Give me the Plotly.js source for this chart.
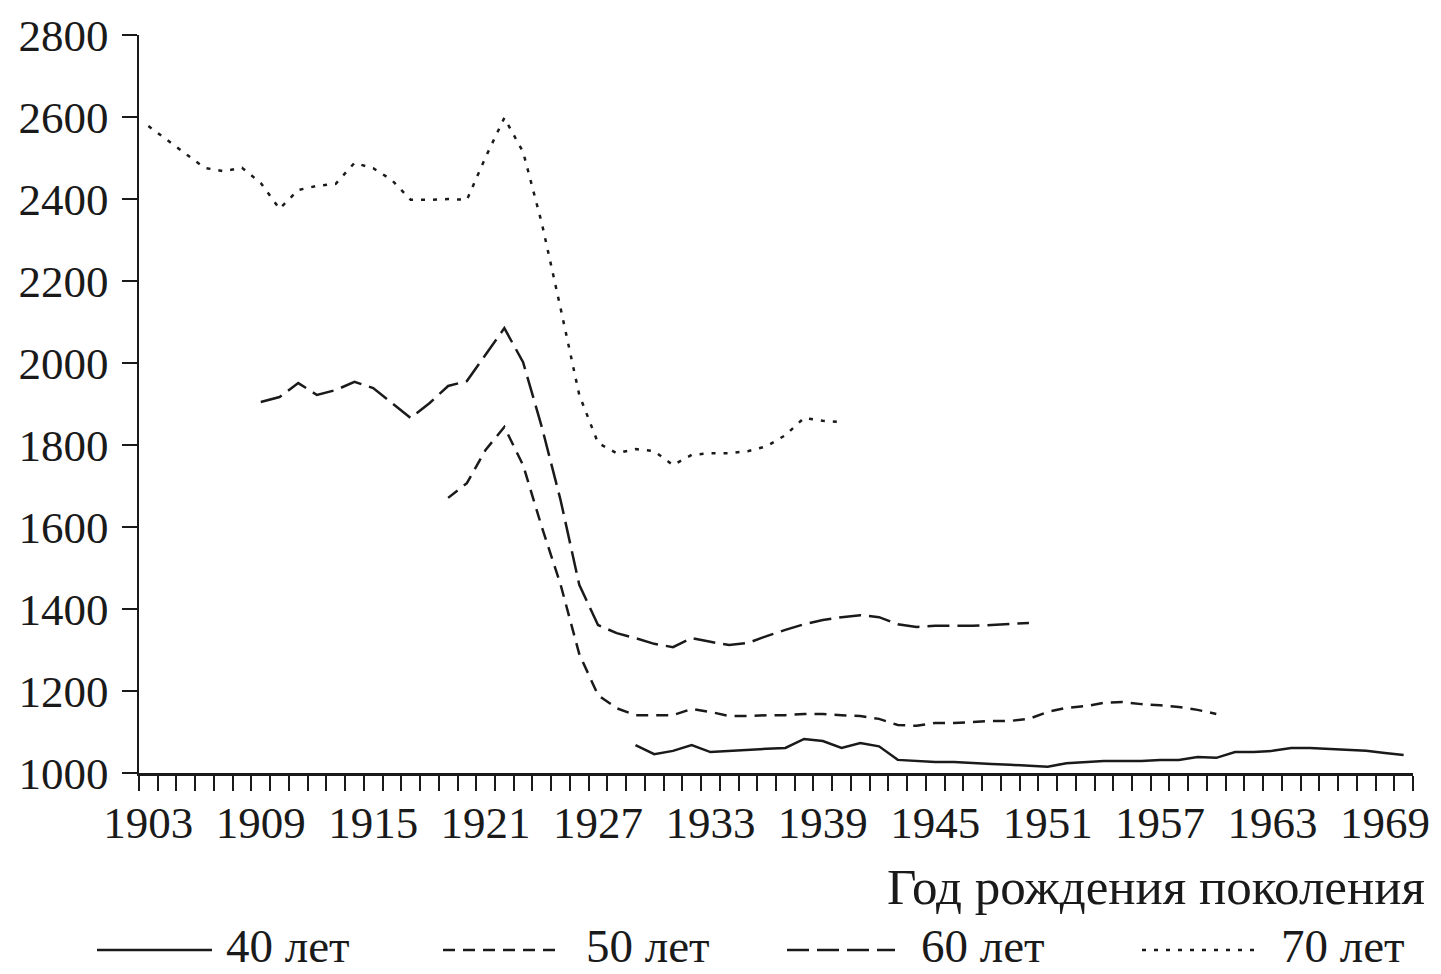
<!DOCTYPE html>
<html>
<head>
<meta charset="utf-8">
<script src="https://cdn.plot.ly/plotly-3.0.1.min.js"></script>
<style>html,body{margin:0;padding:0;background:#fff;}#chart{width:1441px;height:974px;}</style>
</head>
<body>
<div id="chart"></div>
<script>
// ---- data ----
const years70 = [1903,1904,1905,1906,1907,1908,1909,1910,1911,1912,1913,1914,1915,1916,1917,1918,1919,1920,1921,1922,1923,1924,1925,1926,1927,1928,1929,1930,1931,1932,1933,1934,1935,1936,1937,1938,1939,1940];
const values70 = [2578,2544,2512,2476,2468,2476,2439,2376,2422,2432,2437,2488,2475,2446,2398,2398,2400,2398,2502,2598,2515,2341,2134,1922,1805,1780,1790,1785,1751,1776,1780,1780,1785,1797,1824,1866,1859,1856];

const years60 = [1909,1910,1911,1912,1913,1914,1915,1916,1917,1918,1919,1920,1921,1922,1923,1924,1925,1926,1927,1928,1929,1930,1931,1932,1933,1934,1935,1936,1937,1938,1939,1940,1941,1942,1943,1944,1945,1946,1947,1948,1949,1950];
const values60 = [1905,1917,1951,1922,1934,1954,1939,1902,1866,1902,1944,1956,2020,2085,2002,1844,1666,1459,1361,1341,1329,1315,1307,1329,1320,1312,1317,1334,1349,1363,1373,1380,1385,1380,1363,1356,1359,1359,1359,1361,1363,1366];

const years50 = [1919,1920,1921,1922,1923,1924,1925,1926,1927,1928,1929,1930,1931,1932,1933,1934,1935,1936,1937,1938,1939,1940,1941,1942,1943,1944,1945,1946,1947,1948,1949,1950,1951,1952,1953,1954,1955,1956,1957,1958,1959,1960];
const values50 = [1671,1707,1788,1844,1751,1600,1460,1290,1190,1158,1141,1141,1141,1156,1149,1139,1139,1141,1141,1144,1144,1141,1139,1132,1117,1115,1122,1122,1124,1127,1127,1132,1149,1159,1163,1171,1173,1168,1165,1161,1154,1144];

const years40 = [1929,1930,1931,1932,1933,1934,1935,1936,1937,1938,1939,1940,1941,1942,1943,1944,1945,1946,1947,1948,1949,1950,1951,1952,1953,1954,1955,1956,1957,1958,1959,1960,1961,1962,1963,1964,1965,1966,1967,1968,1969,1970];
const values40 = [1068,1046,1054,1068,1051,1054,1056,1059,1061,1083,1078,1061,1073,1065,1032,1029,1027,1027,1024,1022,1020,1017,1015,1024,1027,1029,1029,1029,1032,1032,1039,1037,1051,1051,1054,1061,1061,1059,1056,1054,1049,1044];

const seriesNames = ['40 лет','50 лет','60 лет','70 лет'];
const xTitle = 'Год рождения поколения';

// ---- styling ----
const INK = '#1a1a1a';
const FONT = 'Liberation Serif, Times New Roman, serif';
const FS = 45;
const dashes = ['solid','12px,8px','22px,8px','4px,8px'];
const W = 1441, H = 974;
const M = {l:139, r:28, t:35, b:201};
const PW = W - M.l - M.r, PH = H - M.t - M.b;
const px = x => (x - M.l) / PW;
const py = y => (M.t + PH - y) / PH;

const xs = [years40, years50, years60, years70];
const ys = [values40, values50, values60, values70];
const traces = xs.map((x, i) => ({
  type: 'scatter', mode: 'lines', x: x, y: ys[i], name: seriesNames[i],
  line: {color: INK, width: 2.5, dash: dashes[i]}, showlegend: false
}));

// manual legend at the bottom
const legLines = [[97,212],[443,555],[787,895],[1142,1255]];
const legText = [225, 585, 920, 1280];
const legLineY = 950;
const shapes = legLines.map((p, i) => ({
  type: 'line', xref: 'paper', yref: 'paper',
  x0: px(p[0]), x1: px(p[1]), y0: py(legLineY), y1: py(legLineY),
  line: {color: INK, width: 2.5, dash: dashes[i]}
}));
const annotations = seriesNames.map((n, i) => ({
  xref: 'paper', yref: 'paper', x: px(legText[i]), y: py(973),
  xanchor: 'left', yanchor: 'bottom', showarrow: false, text: n, borderpad: 0,
  font: {family: FONT, size: 47, color: INK}
}));
annotations.push({
  xref: 'paper', yref: 'paper', x: px(1427), y: py(887),
  xanchor: 'right', yanchor: 'middle', showarrow: false, text: xTitle,
  font: {family: FONT, size: 51, color: INK}
});

const layout = {
  width: W, height: H, margin: M,
  paper_bgcolor: '#fff', plot_bgcolor: '#fff',
  font: {family: FONT, size: FS, color: INK},
  showlegend: false,
  xaxis: {
    range: [1902.5, 1970.5], showgrid: false, zeroline: false,
    showline: true, linecolor: INK, linewidth: 2.5,
    tickmode: 'linear', tick0: 1903, dtick: 6, ticks: '',
    ticklabelstandoff: 8,
    tickfont: {family: FONT, size: FS, color: INK},
    minor: {ticks: 'outside', tick0: 1902.5, dtick: 1, ticklen: 15, tickwidth: 2, tickcolor: INK, showgrid: false}
  },
  yaxis: {
    range: [1000, 2800], showgrid: false, zeroline: false,
    showline: true, linecolor: INK, linewidth: 2.5,
    tickmode: 'linear', tick0: 1000, dtick: 200,
    ticks: 'outside', ticklen: 15, tickwidth: 2, tickcolor: INK,
    ticklabelstandoff: 4,
    tickfont: {family: FONT, size: FS, color: INK}
  },
  shapes: shapes,
  annotations: annotations
};

Plotly.newPlot('chart', traces, layout, {staticPlot: true, displayModeBar: false});
</script>
</body>
</html>
